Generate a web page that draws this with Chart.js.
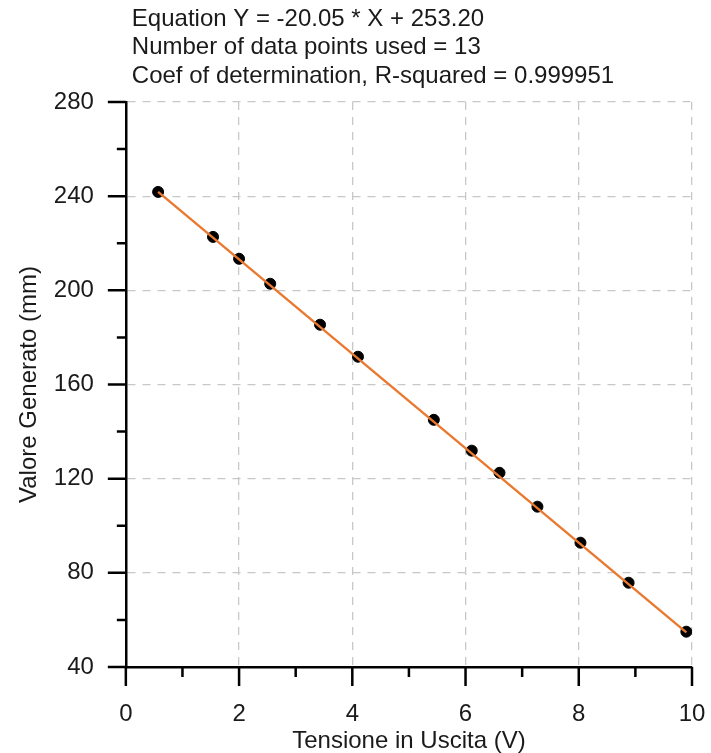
<!DOCTYPE html>
<html>
<head>
<meta charset="utf-8">
<script src="https://cdn.jsdelivr.net/npm/chart.js@4.4.1/dist/chart.umd.min.js"></script>
<style>
  html, body { margin: 0; padding: 0; background: #fff; }
  #wrap { width: 711px; height: 753px; }
</style>
</head>
<body>
<div id="wrap"><canvas id="chart"></canvas></div>
<script>
// Measured points (Tensione in Uscita vs Valore Generato)
const tensione = [0.57, 1.54, 2.0, 2.55, 3.43, 4.1, 5.44, 6.11, 6.6, 7.27, 8.03, 8.88, 9.9];
const valore = [241.8, 222.7, 213.4, 202.8, 185.4, 171.8, 145.0, 131.9, 122.5, 108.1, 92.8, 75.8, 55.0];

// Fitted line end points
const fitX = [0.57, 9.9];
const fitY = [241.8, 54.7];

// Tick values
const xMajor = [0, 2, 4, 6, 8, 10];
const xMinor = [1, 3, 5, 7, 9];
const yMajor = [40, 80, 120, 160, 200, 240, 280];
const yMinor = [60, 100, 140, 180, 220, 260];

const titleLines = [
  "Equation Y = -20.05 * X + 253.20",
  "Number of data points used = 13",
  "Coef of determination, R-squared = 0.999951"
];

const FONT = "'Liberation Sans', Arial, sans-serif";
const TEXT = "#1a1a1a";

// Regression summary drawn above the plot, left aligned a bit inside the y axis
const headerText = {
  id: "headerText",
  afterDraw(chart) {
    const { ctx, chartArea } = chart;
    ctx.save();
    ctx.fillStyle = TEXT;
    ctx.font = "24px " + FONT;
    ctx.textAlign = "left";
    ctx.textBaseline = "middle";
    titleLines.forEach((line, i) => {
      ctx.fillText(line, chartArea.left + 6, 19 + i * 28.5);
    });
    ctx.restore();
  }
};

// Draws the outward tick marks (long for major, short for minor)
const tickMarks = {
  id: "tickMarks",
  afterDraw(chart) {
    const { ctx } = chart;
    const x = chart.scales.x;
    const y = chart.scales.y;
    const x0 = x.getPixelForValue(x.min);
    const y0 = y.getPixelForValue(y.min);
    ctx.save();
    ctx.strokeStyle = "#000";
    ctx.lineWidth = 2.5;
    ctx.beginPath();
    xMajor.forEach((v) => {
      const px = x.getPixelForValue(v);
      ctx.moveTo(px, y0);
      ctx.lineTo(px, y0 + 19);
    });
    xMinor.forEach((v) => {
      const px = x.getPixelForValue(v);
      ctx.moveTo(px, y0);
      ctx.lineTo(px, y0 + 10);
    });
    yMajor.forEach((v) => {
      const py = y.getPixelForValue(v);
      ctx.moveTo(x0, py);
      ctx.lineTo(x0 - 18, py);
    });
    yMinor.forEach((v) => {
      const py = y.getPixelForValue(v);
      ctx.moveTo(x0, py);
      ctx.lineTo(x0 - 9, py);
    });
    ctx.stroke();
    ctx.restore();
  }
};

const gridColor = (c) => (c.index === 0 ? "rgba(0,0,0,0)" : "#c8c8c8");

const ctx = document.getElementById("chart").getContext("2d");
new Chart(ctx, {
  type: "scatter",
  data: {
    datasets: [
      {
        label: "Fit",
        type: "line",
        data: fitX.map((v, i) => ({ x: v, y: fitY[i] })),
        borderColor: "#e8792f",
        borderWidth: 2.4,
        pointRadius: 0,
        fill: false,
        order: 0
      },
      {
        label: "Dati",
        data: tensione.map((v, i) => ({ x: v, y: valore[i] })),
        backgroundColor: "#000",
        borderColor: "#000",
        pointRadius: 5.5,
        pointHoverRadius: 5.5,
        order: 1
      }
    ]
  },
  options: {
    responsive: true,
    maintainAspectRatio: false,
    animation: false,
    layout: { padding: { left: 15, right: 19, top: 102, bottom: 0 } },
    plugins: {
      legend: { display: false },
      tooltip: { enabled: false },
      title: { display: false }
    },
    scales: {
      x: {
        type: "linear",
        min: 0,
        max: 10,
        afterBuildTicks: (scale) => { scale.ticks = xMajor.map((v) => ({ value: v })); },
        grid: {
          drawTicks: true,
          tickLength: 35,
          tickColor: "rgba(0,0,0,0)",
          color: gridColor,
          lineWidth: 1.3
        },
        border: { display: true, color: "#000", width: 2.5, dash: [8, 7] },
        ticks: { color: TEXT, padding: 0, font: { family: FONT, size: 24, lineHeight: 1 } },
        title: {
          display: true,
          text: "Tensione in Uscita (V)",
          color: TEXT,
          font: { family: FONT, size: 24, lineHeight: 1 },
          padding: { top: 3, bottom: 0 }
        }
      },
      y: {
        type: "linear",
        min: 40,
        max: 280,
        afterBuildTicks: (scale) => { scale.ticks = yMajor.map((v) => ({ value: v })); },
        grid: {
          drawTicks: true,
          tickLength: 32,
          tickColor: "rgba(0,0,0,0)",
          color: gridColor,
          lineWidth: 1.3
        },
        border: { display: true, color: "#000", width: 2.5, dash: [8, 7] },
        ticks: { color: TEXT, padding: 0, font: { family: FONT, size: 24, lineHeight: 1 } },
        title: {
          display: true,
          text: "Valore Generato (mm)",
          color: TEXT,
          font: { family: FONT, size: 24, lineHeight: 1.2 },
          padding: { top: 0, bottom: 10 }
        }
      }
    }
  },
  plugins: [tickMarks, headerText]
});
</script>
</body>
</html>
